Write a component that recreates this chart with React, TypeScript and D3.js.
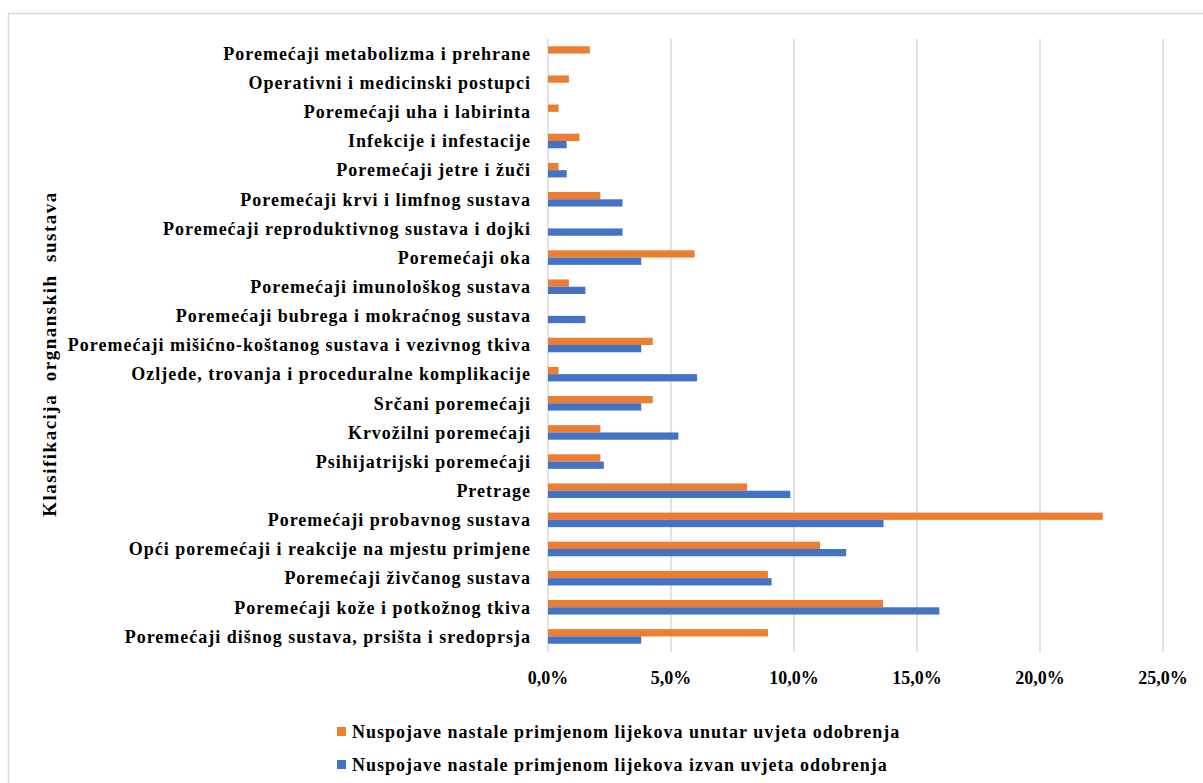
import React from "react";
import * as d3 from "d3";

const categories = [
  "Poremećaji metabolizma i prehrane",
  "Operativni i medicinski postupci",
  "Poremećaji uha i labirinta",
  "Infekcije i infestacije",
  "Poremećaji jetre i žuči",
  "Poremećaji krvi i limfnog sustava",
  "Poremećaji reproduktivnog sustava i dojki",
  "Poremećaji oka",
  "Poremećaji imunološkog sustava",
  "Poremećaji bubrega i mokraćnog sustava",
  "Poremećaji mišićno-koštanog sustava i vezivnog tkiva",
  "Ozljede, trovanja i proceduralne komplikacije",
  "Srčani poremećaji",
  "Krvožilni poremećaji",
  "Psihijatrijski poremećaji",
  "Pretrage",
  "Poremećaji probavnog sustava",
  "Opći poremećaji i reakcije na mjestu primjene",
  "Poremećaji živčanog sustava",
  "Poremećaji kože i potkožnog tkiva",
  "Poremećaji dišnog sustava, prsišta i sredoprsja",
];

const unutar = [1.7, 0.85, 0.43, 1.28, 0.43, 2.13, 0, 5.96, 0.85, 0, 4.26, 0.43, 4.26, 2.13, 2.13, 8.09, 22.55, 11.06, 8.94, 13.62, 8.94];
const izvan = [0, 0, 0, 0.76, 0.76, 3.03, 3.03, 3.79, 1.52, 1.52, 3.79, 6.06, 3.79, 5.3, 2.27, 9.85, 13.64, 12.12, 9.09, 15.91, 3.79];

const ticks = [0, 5, 10, 15, 20, 25];
const seriesNames = [
  "Nuspojave nastale primjenom lijekova unutar uvjeta odobrenja",
  "Nuspojave nastale primjenom lijekova izvan uvjeta odobrenja",
];
const axisTitle = "Klasifikacija  orgnanskih  sustava";

const ORANGE = "#ED7D31";
const BLUE = "#4472C4";
const GRID = "#d9d9d9";
const FONT = "'Liberation Serif', 'Times New Roman', serif";

export default function App() {
  const x = d3.scaleLinear().domain([0, 25]).range([548, 1163]);
  const y = d3.scaleBand<string>().domain(categories).range([39, 651]).padding(0);
  const bw = y.bandwidth();
  const barH = bw * 0.25;
  const fmt = (v: number) => v.toFixed(1).replace(".", ",") + "%";

  return (
    <svg
      width={1203}
      height={783}
      style={{ position: "absolute", left: 0, top: 0, background: "#fff" }}
      fontFamily={FONT}
      fontWeight="bold"
    >
      <rect x={0} y={0} width={1203} height={783} fill="#fff" />
      <rect x={8.5} y={13.5} width={1210} height={800} fill="none" stroke="#d9d9d9" strokeWidth={1.5} />
      {ticks.map((t) => (
        <line key={t} x1={x(t)} x2={x(t)} y1={39} y2={652} stroke={GRID} strokeWidth={1.5} />
      ))}
      {categories.map((c, i) => {
        const c0 = (y(c) as number) + bw / 2;
        return (
          <g key={c}>
            {unutar[i] > 0 && (
              <rect x={x(0)} y={c0 - barH} width={x(unutar[i]) - x(0)} height={barH} fill={ORANGE} />
            )}
            {izvan[i] > 0 && (
              <rect x={x(0)} y={c0} width={x(izvan[i]) - x(0)} height={barH} fill={BLUE} />
            )}
            <text
              x={531}
              y={c0}
              dy="0.35em"
              textAnchor="end"
              fontSize={18}
              letterSpacing={1}
              fill="#000"
            >
              {c}
            </text>
          </g>
        );
      })}
      {ticks.map((t) => (
        <text key={"l" + t} x={x(t)} y={684} textAnchor="middle" fontSize={18} fill="#000">
          {fmt(t)}
        </text>
      ))}
      <text
        transform="translate(56,354) rotate(-90)"
        textAnchor="middle"
        fontSize={19}
        letterSpacing={1.5}
        fill="#000"
        style={{ whiteSpace: "pre" }}
      >
        {axisTitle}
      </text>
      {seriesNames.map((s, i) => (
        <g key={s} transform={`translate(337,${727 + i * 33})`}>
          <rect x={0} y={0} width={9} height={9} fill={i === 0 ? ORANGE : BLUE} />
          <text x={15} y={11} fontSize={18} letterSpacing={1} fill="#000">
            {s}
          </text>
        </g>
      ))}
    </svg>
  );
}
